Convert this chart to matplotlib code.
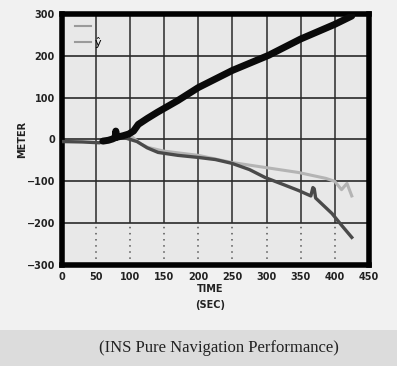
import numpy as np
import matplotlib
matplotlib.use('Agg')
import matplotlib.pyplot as plt
from matplotlib.patches import Rectangle
from matplotlib.lines import Line2D

# thick black curve
t_black = [60, 68, 74, 78, 79, 80, 85, 90, 98, 105, 112, 125, 140, 170, 200, 250, 303, 350, 400, 425]
y_black = [-4, -2, 1, 4, 20, 5, 7, 9, 13, 20, 36, 50, 65, 93, 124, 165, 201, 240, 275, 295]

# dark grey curve
t_dark = [0, 30, 55, 60, 90, 110, 125, 141, 170, 200, 225, 249, 275, 298, 325, 347, 365, 368, 370,
          372, 396, 410, 425]
y_dark = [-5, -6, -8, -5, 5, -5, -20, -31, -38, -43, -48, -57, -72, -91, -108, -122, -135, -115,
          -118, -140, -177, -205, -234]

# light grey curve
t_light = [100, 115, 126, 150, 200, 249, 298, 347, 387, 400, 410, 418, 425]
y_light = [10, -10, -19, -28, -38, -55, -67, -79, -93, -100, -120, -105, -135]

x_ticks = [0, 50, 100, 150, 200, 250, 300, 350, 400, 450]
y_ticks = [-300, -200, -100, 0, 100, 200, 300]
legend_labels = ['', 'ŷ']
caption = '(INS Pure Navigation Performance)'

fig = plt.figure(figsize=(3.97, 3.66), dpi=100)
fig.patch.set_facecolor('#f1f1f1')

# caption band
fig.add_artist(Rectangle((0, 0), 1, 0.097, transform=fig.transFigure,
                         facecolor='#dcdcdc', edgecolor='none'))
fig.text(0.552, 0.049, caption, ha='center', va='center',
         family='Liberation Serif', fontsize=12, color='#222222')

ax = fig.add_axes([0.156, 0.276, 0.773, 0.686])
ax.set_facecolor('#e8e8e8')
ax.set_xlim(0, 450)
ax.set_ylim(-300, 300)

# grid: solid above -200, dotted below
for xv in x_ticks[1:-1]:
    ax.vlines(xv, -200, 300, color='#2a2a2a', lw=1.1, zorder=1)
    ax.vlines(xv, -300, -200, color='#555555', lw=1.1, linestyles=(0, (1, 3)), zorder=1)
for yv in y_ticks[1:-1]:
    ax.hlines(yv, 0, 450, color='#2a2a2a', lw=1.2, zorder=1)

ax.plot(t_light, y_light, color='#b4b4b4', lw=2.2, zorder=2)
ax.plot(t_dark, y_dark, color='#4a4a4a', lw=2.4, zorder=3)
ax.plot(t_black, y_black, color='#0a0a0a', lw=5, solid_capstyle='round', zorder=4)

handles = [Line2D([], [], color='#9a9a9a', lw=1.5), Line2D([], [], color='#9a9a9a', lw=1.5)]
ax.legend(handles, legend_labels, loc='upper left', frameon=False, fontsize=8,
          handlelength=1.4, handletextpad=0.4, labelspacing=0.5,
          bbox_to_anchor=(0.01, 1.01))

for s in ax.spines.values():
    s.set_linewidth(4)
    s.set_color('black')

ax.set_xticks(x_ticks)
ax.set_yticks(y_ticks)
ax.tick_params(length=0, labelsize=7, pad=5)
for lab in ax.get_xticklabels() + ax.get_yticklabels():
    lab.set_fontweight('bold')
    lab.set_color('#222222')

fig.text(0.055, 0.62, 'METER', rotation=90, ha='center', va='center',
         fontsize=7, fontweight='bold', color='#222222')
fig.text(0.53, 0.21, 'TIME', ha='center', va='center',
         fontsize=7, fontweight='bold', color='#222222')
fig.text(0.53, 0.166, '(SEC)', ha='center', va='center',
         fontsize=7, fontweight='bold', color='#222222')

fig.savefig('out.png', dpi=100, facecolor=fig.get_facecolor())
